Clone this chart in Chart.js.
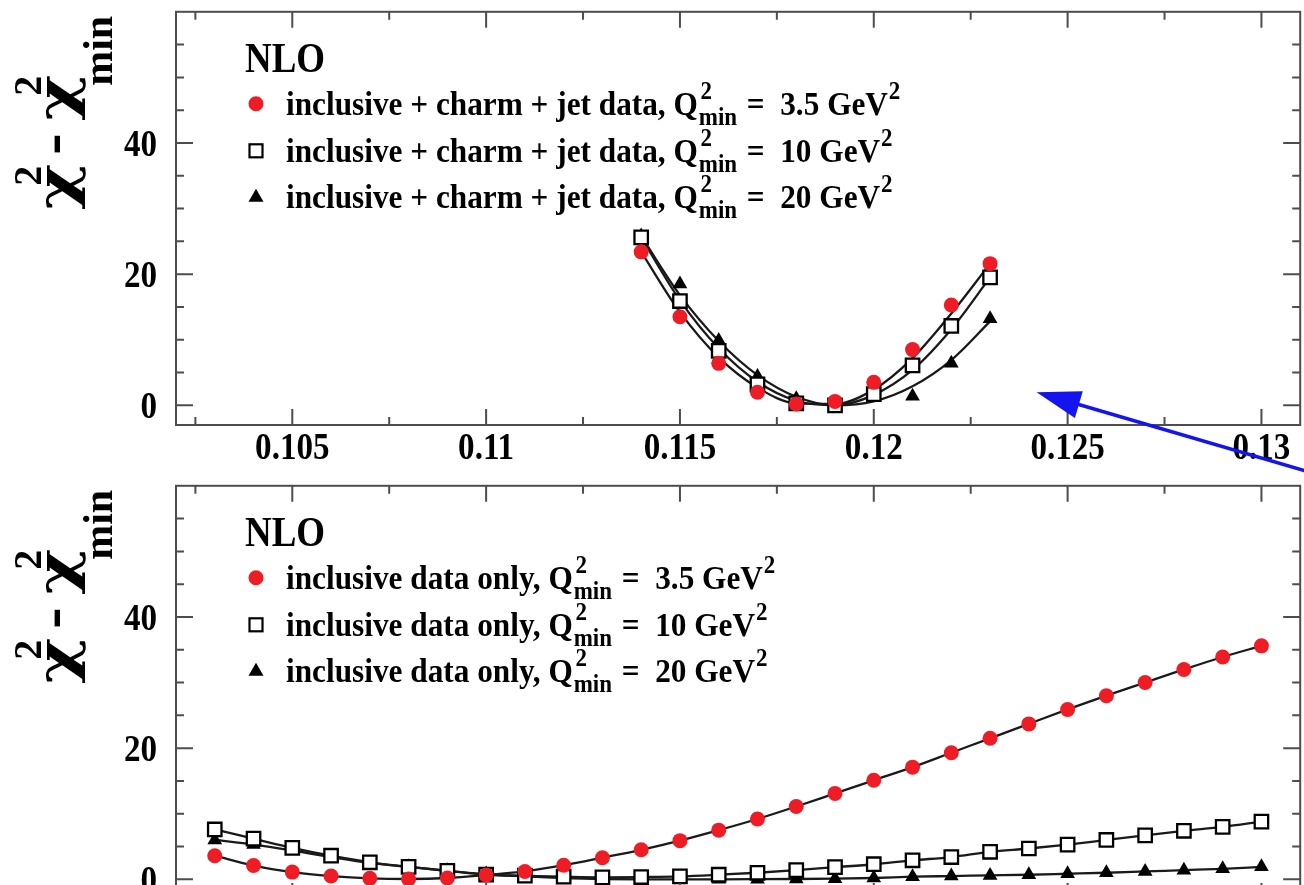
<!DOCTYPE html>
<html>
<head>
<meta charset="utf-8">
<script src="https://cdn.jsdelivr.net/npm/chart.js@4.4.1/dist/chart.umd.min.js"></script>
<style>
  html, body { margin: 0; padding: 0; background: #fff; overflow: hidden; }
  body { width: 1304px; height: 885px; position: relative; }
  .panel { position: absolute; left: 0; width: 1312px; height: 474px; }
  #top { top: 0; }
  #bottom { top: 474px; }
</style>
</head>
<body>
<div class="panel" id="top"><canvas id="chartTop" width="1312" height="474"></canvas></div>
<div class="panel" id="bottom"><canvas id="chartBottom" width="1312" height="474"></canvas></div>
<script>
// ---- data ----
const X_TICKS = [0.105, 0.11, 0.115, 0.12, 0.125, 0.13];
const X_TICK_LABELS = ['0.105', '0.11', '0.115', '0.12', '0.125', '0.13'];
const Y_TICKS = [0, 20, 40];
const Y_TICK_LABELS = ['0', '20', '40'];

const Q2_VALUES = ['3.5', '10', '20'];
const TOP_LABEL = 'inclusive + charm + jet data, ';
const BOTTOM_LABEL = 'inclusive data only, ';

// top panel: inclusive + charm + jet
const TOP_X = [0.114, 0.115, 0.116, 0.117, 0.118, 0.119, 0.120, 0.121, 0.122, 0.123];
const TOP_RED = [23.4, 13.5, 6.4, 2.0, 0.2, 0.6, 3.5, 8.5, 15.3, 21.6];
const TOP_SQ  = [25.6, 15.9, 8.3, 3.2, 0.3, 0.0, 1.7, 6.1, 12.1, 19.5];
const TOP_TRI = [25.8, 18.5, 9.9, 4.4, 1.0, 0.1, 1.2, 1.4, 6.4, 13.2];
// fitted curves as drawn in the picture
const TOP_RED_FIT = [23.4, 14.2, 7.3, 2.7, 0.3, 0.2, 2.4, 7.2, 14.0, 21.6];
const TOP_SQ_FIT  = [25.6, 16.0, 8.7, 3.6, 0.7, 0.0, 1.6, 5.4, 11.6, 19.5];
const TOP_TRI_FIT = [25.8, 16.8, 9.8, 4.6, 1.3, 0.0, 0.6, 2.9, 6.9, 12.8];

// bottom panel: inclusive data only
const BOT_X = [0.103, 0.104, 0.105, 0.106, 0.107, 0.108, 0.109, 0.110, 0.111, 0.112,
               0.113, 0.114, 0.115, 0.116, 0.117, 0.118, 0.119, 0.120, 0.121, 0.122,
               0.123, 0.124, 0.125, 0.126, 0.127, 0.128, 0.129, 0.130];
const BOT_RED = [3.6, 2.1, 1.1, 0.5, 0.15, 0.05, 0.2, 0.65, 1.2, 2.15,
                 3.3, 4.5, 5.9, 7.5, 9.2, 11.1, 13.1, 15.1, 17.1, 19.3,
                 21.5, 23.7, 25.9, 28.0, 30.0, 32.0, 33.9, 35.6];
const BOT_SQ  = [7.6, 6.2, 4.8, 3.6, 2.6, 1.9, 1.3, 0.7, 0.55, 0.4,
                 0.3, 0.35, 0.45, 0.7, 1.0, 1.4, 1.85, 2.3, 2.9, 3.4,
                 4.2, 4.7, 5.3, 6.0, 6.7, 7.4, 8.0, 8.8];
const BOT_TRI = [6.0, 5.3, 4.4, 3.4, 2.5, 1.9, 1.3, 0.8, 0.45, 0.2,
                 0.05, 0.0, 0.0, 0.0, 0.02, 0.05, 0.1, 0.2, 0.4, 0.5,
                 0.6, 0.7, 0.85, 1.0, 1.2, 1.4, 1.6, 1.9];

// annotation arrow tip (data coords)
const ARROW_AT = [0.1242, 2.0];

// ---- style ----
const SERIF = '"Liberation Serif", "Times New Roman", serif';
const RED = '#ee1c25';
const INK = '#1a1a1a';
const FRAME = '#4d4d4d';

function pts(xs, ys) { return xs.map((x, i) => ({ x: x, y: ys[i] })); }

function lineSet(xs, ys) {
  return { data: pts(xs, ys), showLine: true, borderColor: INK, borderWidth: 2.3,
           pointRadius: 0, cubicInterpolationMode: 'monotone', order: 10 };
}
const MARK = {
  red: { pointStyle: 'circle', pointRadius: 7.5, pointBackgroundColor: RED, pointBorderColor: RED, pointBorderWidth: 0, order: 1 },
  sq:  { pointStyle: 'rect', pointRadius: 9.5, pointBackgroundColor: '#fff', pointBorderColor: '#000', pointBorderWidth: 2.3, order: 2 },
  tri: { pointStyle: 'triangle', pointRadius: 8.5, pointBackgroundColor: '#000', pointBorderColor: '#000', pointBorderWidth: 0, order: 3 }
};
function markSet(xs, ys, st) { return Object.assign({ data: pts(xs, ys), showLine: false }, st); }

// text helper: condensed serif like the original figure
function squeezed(ctx, str, x, y, font, align, sx) {
  ctx.save();
  ctx.font = font;
  ctx.translate(x, y);
  ctx.scale(sx, 1);
  const w = ctx.measureText(str).width;
  let dx = 0;
  if (align === 'center') dx = -w / 2;
  else if (align === 'right') dx = -w;
  ctx.textAlign = 'left';
  ctx.fillText(str, dx, 0);
  ctx.restore();
}

const axesPlugin = {
  id: 'paperAxes',
  afterDatasetsDraw(chart) {
    const { ctx, chartArea: a, scales: { x, y } } = chart;
    ctx.save();
    ctx.strokeStyle = FRAME;
    ctx.lineWidth = 2;
    ctx.strokeRect(a.left, a.top, a.right - a.left, a.bottom - a.top);
    ctx.beginPath();
    // x ticks every 0.0025, long ones on 0.005
    for (let k = Math.ceil(x.min / 0.0025); k * 0.0025 <= x.max; k++) {
      const px = x.getPixelForValue(k * 0.0025);
      const len = k % 2 === 0 ? 16 : 8;
      ctx.moveTo(px, a.bottom); ctx.lineTo(px, a.bottom - len);
      ctx.moveTo(px, a.top); ctx.lineTo(px, a.top + len);
    }
    // y ticks every 5, long ones on 20
    for (let v = 0; v < y.max; v += 5) {
      const py = y.getPixelForValue(v);
      const len = v % 20 === 0 ? 17 : 8;
      ctx.moveTo(a.left, py); ctx.lineTo(a.left + len, py);
      ctx.moveTo(a.right, py); ctx.lineTo(a.right - len, py);
    }
    ctx.stroke();

    ctx.fillStyle = '#000';
    ctx.textBaseline = 'middle';
    const tf = `bold 38px ${SERIF}`;
    X_TICKS.forEach((v, i) => squeezed(ctx, X_TICK_LABELS[i], x.getPixelForValue(v), a.bottom + 24, tf, 'center', 0.87));
    Y_TICKS.forEach((v, i) => squeezed(ctx, Y_TICK_LABELS[i], a.left - 19, y.getPixelForValue(v) + 3, tf, 'right', 0.87));
    ctx.restore();
  }
};

function drawChiTitle(ctx, bx, by) {
  ctx.save();
  ctx.translate(bx, by);
  ctx.rotate(-Math.PI / 2);
  ctx.fillStyle = '#000';
  ctx.textBaseline = 'alphabetic';
  ctx.font = 'bold 52px "DejaVu Serif", serif';
  const sx = 46 / ctx.measureText('\u03C7').width;
  [0, 89].forEach(u => {
    ctx.save(); ctx.translate(u, 0); ctx.scale(sx, 1); ctx.fillText('\u03C7', 0, 0); ctx.restore();
  });
  ctx.font = `bold 40px ${SERIF}`;
  ctx.fillText('2', 24, -33);
  ctx.fillText('2', 114, -33);
  ctx.font = `bold 64px ${SERIF}`;
  ctx.fillText('-', 55, -2);
  ctx.font = `bold 42px ${SERIF}`;
  ctx.fillText('min', 124, 38);
  ctx.restore();
}

function drawLegendMarker(ctx, kind, cx, cy) {
  ctx.save();
  if (kind === 'red') {
    ctx.fillStyle = RED;
    ctx.beginPath(); ctx.arc(cx, cy, 7.5, 0, Math.PI * 2); ctx.fill();
  } else if (kind === 'sq') {
    ctx.fillStyle = '#fff'; ctx.strokeStyle = '#000'; ctx.lineWidth = 2.2;
    ctx.fillRect(cx - 6.5, cy - 6.5, 13, 13);
    ctx.strokeRect(cx - 6.5, cy - 6.5, 13, 13);
  } else {
    ctx.fillStyle = '#000';
    ctx.beginPath();
    ctx.moveTo(cx, cy - 8); ctx.lineTo(cx + 7.5, cy + 5); ctx.lineTo(cx - 7.5, cy + 5);
    ctx.closePath(); ctx.fill();
  }
  ctx.restore();
}

function drawLegendRow(ctx, x, y, label, q) {
  const sx = 0.92;
  const big = `bold 34px ${SERIF}`, small = `bold 25px ${SERIF}`;
  ctx.save();
  ctx.translate(x, y);
  ctx.scale(sx, 1);
  ctx.fillStyle = '#000';
  ctx.textBaseline = 'alphabetic';
  let u = 0;
  ctx.font = big;
  ctx.fillText(label + 'Q', u, 0);
  u += ctx.measureText(label + 'Q').width;
  ctx.font = small;
  ctx.fillText('2', u + 3, -16);
  ctx.fillText('min', u + 1, 10);
  u += ctx.measureText('min').width + 1;
  ctx.font = big;
  const rest = ' =  ' + q + ' GeV';
  ctx.fillText(rest, u + 2, 0);
  u += 2 + ctx.measureText(rest).width;
  ctx.font = small;
  ctx.fillText('2', u + 1, -16);
  ctx.restore();
}

const decorPlugin = {
  id: 'paperDecor',
  afterDraw(chart, args, opts) {
    const { ctx, chartArea: a, scales: { x, y } } = chart;
    drawChiTitle(ctx, 74, a.top + 198);
    ctx.save();
    ctx.fillStyle = '#000';
    ctx.textBaseline = 'alphabetic';
    squeezed(ctx, 'NLO', 245, a.top + 60, `bold 42px ${SERIF}`, 'left', 0.88);
    const kinds = ['red', 'sq', 'tri'];
    const rows = [103, 150, 196];
    kinds.forEach((k, i) => {
      drawLegendMarker(ctx, k, 256, a.top + rows[i] - 11);
      drawLegendRow(ctx, 286, a.top + rows[i], opts.label, Q2_VALUES[i]);
    });
    ctx.restore();

    if (opts.arrow) {
      const tx = x.getPixelForValue(ARROW_AT[0]);
      const ty = y.getPixelForValue(ARROW_AT[1]);
      const dx = 0.96, dy = 0.281;
      ctx.save();
      ctx.strokeStyle = '#1414ee';
      ctx.fillStyle = '#1414ee';
      ctx.lineWidth = 3.5;
      ctx.beginPath();
      ctx.moveTo(tx + dx * 35, ty + dy * 35);
      ctx.lineTo(tx + dx * 320, ty + dy * 320);
      ctx.stroke();
      const bx = tx + dx * 44, by = ty + dy * 44;
      ctx.beginPath();
      ctx.moveTo(tx, ty);
      ctx.lineTo(bx - dy * 14, by + dx * 14);
      ctx.lineTo(bx + dy * 14, by - dx * 14);
      ctx.closePath();
      ctx.fill();
      ctx.restore();
    }
  }
};

function makeChart(id, datasets, label, arrow) {
  return new Chart(document.getElementById(id), {
    type: 'scatter',
    data: { datasets: datasets },
    options: {
      responsive: false,
      animation: false,
      events: [],
      layout: { padding: { left: 176, right: 4, top: 7, bottom: 49 } },
      scales: {
        x: { type: 'linear', min: 0.102, max: 0.131, display: false },
        y: { type: 'linear', min: -3, max: 60, display: false }
      },
      plugins: {
        legend: { display: false },
        tooltip: { enabled: false },
        paperDecor: { label: label, arrow: arrow }
      }
    },
    plugins: [axesPlugin, decorPlugin]
  });
}

makeChart('chartTop', [
  lineSet(TOP_X, TOP_RED_FIT),
  lineSet(TOP_X, TOP_SQ_FIT),
  lineSet(TOP_X, TOP_TRI_FIT),
  markSet(TOP_X, TOP_TRI, MARK.tri),
  markSet(TOP_X, TOP_SQ, MARK.sq),
  markSet(TOP_X, TOP_RED, MARK.red)
], TOP_LABEL, true);

makeChart('chartBottom', [
  lineSet(BOT_X, BOT_RED),
  lineSet(BOT_X, BOT_SQ),
  lineSet(BOT_X, BOT_TRI),
  markSet(BOT_X, BOT_TRI, MARK.tri),
  markSet(BOT_X, BOT_SQ, MARK.sq),
  markSet(BOT_X, BOT_RED, MARK.red)
], BOTTOM_LABEL, false);
</script>
</body>
</html>
